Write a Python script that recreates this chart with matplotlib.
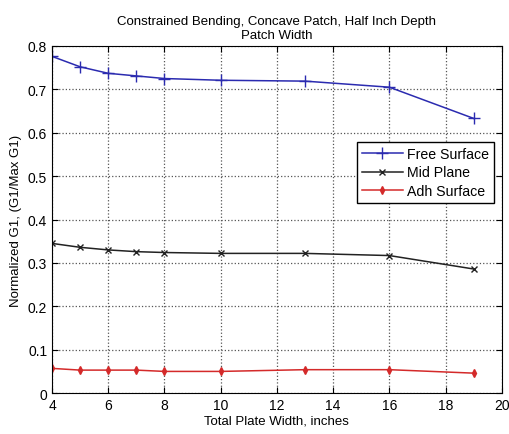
import numpy as np
import matplotlib
matplotlib.use("Agg")
import matplotlib.pyplot as plt

plt.rcParams['font.family'] = ['Liberation Sans', 'DejaVu Sans']

width = [4, 5, 6, 7, 8, 10, 13, 16, 19]
free_surface = [0.776, 0.752, 0.737, 0.731, 0.725, 0.721, 0.719, 0.705, 0.633]
mid_plane = [0.345, 0.336, 0.330, 0.326, 0.324, 0.322, 0.322, 0.317, 0.286]
adh_surface = [0.057, 0.053, 0.053, 0.053, 0.050, 0.050, 0.054, 0.054, 0.046]

fig = plt.figure(figsize=(5.1, 4.35), dpi=100)
ax = fig.add_axes([0.102, 0.094, 0.882, 0.798])

ax.plot(width, free_surface, color='#2b2bb0', marker='+', markersize=8, lw=1.1, label='Free Surface')
ax.plot(width, mid_plane, color='#222222', marker='x', markersize=4, lw=1.1, label='Mid Plane')
ax.plot(width, adh_surface, color='#d42a2a', marker='d', markersize=4, lw=1.1, label='Adh Surface')

ax.set_xlim(4, 20)
ax.set_ylim(0, 0.8)
ax.set_xticks(np.arange(4, 21, 2))
ax.set_yticks(np.arange(0, 0.81, 0.1))
ax.set_yticklabels(['0', '0.1', '0.2', '0.3', '0.4', '0.5', '0.6', '0.7', '0.8'])
ax.tick_params(direction='in', labelsize=10, length=4, top=True, right=True)
ax.grid(True, linestyle=':', color='#555555', lw=0.9)

ax.set_xlabel('Total Plate Width, inches', fontsize=9.5, labelpad=2)
ax.set_ylabel('Normalized G1, (G1/Max G1)', fontsize=9.5, labelpad=4)
ax.set_title('Constrained Bending, Concave Patch, Half Inch Depth\nPatch Width', fontsize=9.5, pad=6)

leg = ax.legend(loc='upper right', bbox_to_anchor=(0.998, 0.745), fontsize=10.2,
                fancybox=False, edgecolor='black', framealpha=1,
                handlelength=2.9, borderpad=0.35, labelspacing=0.35, handletextpad=0.3)
leg.get_frame().set_linewidth(1.0)

plt.savefig('out.png', dpi=100)
